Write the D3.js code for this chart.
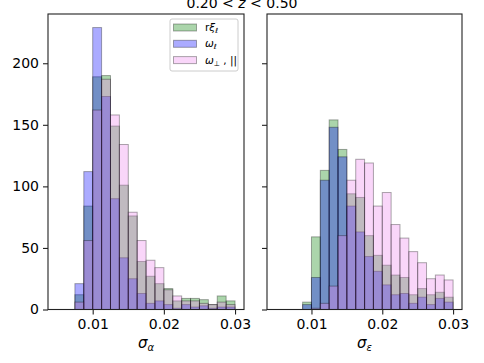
<!DOCTYPE html>
<html>
<head>
<meta charset="utf-8">
<script src="https://cdn.jsdelivr.net/npm/d3@7"></script>
<style>
body{margin:0;background:#fff;}
text{font-family:"DejaVu Sans",sans-serif;fill:#000;}
</style>
</head>
<body>
<div id="chart"></div>
<script>
// bin edges shared by both panels
var binEdges=[0.0075,0.00875,0.01,0.01125,0.0125,0.01375,0.015,0.01625,0.0175,0.01875,0.02,0.02125,0.0225,0.02375,0.025,0.02625,0.0275,0.02875,0.03];

// left panel (sigma_alpha)
var rxiAlpha  =[12,84,189,190,149,101,76,39,27,21,17,7,9,9,8,4,11,7];
var omegaAlpha=[21,112,229,173,90,42,25,13,5,7,4,1,4,2,3,1,2,2];
var perpAlpha =[6,56,162,187,158,134,79,56,40,34,16,11,7,7,5,4,6,4];

// right panel (sigma_epsilon)
var rxiEps  =[0,6,59,113,154,130,94,91,60,44,36,28,26,12,17,12,14,10];
var omegaEps=[0,4,26,105,148,124,84,63,43,31,20,12,13,5,10,4,9,6];
var perpEps =[0,0,1,5,19,60,105,122,119,84,95,69,58,47,38,25,28,24];

var xTicks=[0.01,0.02,0.03];
var yTicks=[0,50,100,150,200];
var colors=["#008000","#0000ff","#ee82ee"];
var alpha=0.33;

var W=484,H=363;
var svg=d3.select("#chart").append("svg").attr("width",W).attr("height",H);

var y=d3.scaleLinear().domain([0,240]).range([309.5,14]);

function panel(x0,x1,series,showY,xlab,sub){
    var x=d3.scaleLinear().domain([0.00372,0.03126]).range([x0,x1]);
    var g=svg.append("g");
    series.forEach(function(vals,si){
        g.selectAll(null).data(vals).enter().append("rect")
            .attr("x",function(d,i){return x(binEdges[i]);})
            .attr("width",function(d,i){return x(binEdges[i+1])-x(binEdges[i]);})
            .attr("y",function(d){return y(d);})
            .attr("height",function(d){return y(0)-y(d);})
            .attr("fill",colors[si]).attr("fill-opacity",alpha)
            .attr("stroke","#000").attr("stroke-opacity",d=>d>0?alpha:0).attr("stroke-width",1);
    });
    // spines
    g.append("rect").attr("x",x0).attr("y",14).attr("width",x1-x0).attr("height",309.5-14)
        .attr("fill","none").attr("stroke","#222").attr("stroke-width",1.1);
    var ax=g.append("g").attr("transform","translate(0,309.5)")
        .call(d3.axisBottom(x).tickValues(xTicks).tickFormat(d3.format(".2f")).tickSize(5).tickPadding(5));
    var ay=g.append("g").attr("transform","translate("+x0+",0)")
        .call(d3.axisLeft(y).tickValues(yTicks).tickSize(5).tickPadding(4).tickFormat(showY?null:""));
    [ax,ay].forEach(function(a){
        a.select(".domain").remove();
        a.selectAll("line").attr("stroke","#222").attr("stroke-width",1.1);
        a.selectAll("text").attr("font-family","DejaVu Sans").attr("font-size",14).attr("fill","#000");
    });
    var t=g.append("text").attr("x",(x0+x1)/2).attr("y",348).attr("text-anchor","middle").attr("font-size",15);
    t.append("tspan").attr("font-style","italic").text(xlab);
    t.append("tspan").attr("font-style","italic").attr("font-size",10).attr("dy",3).text(sub);
}

panel(48,244,[rxiAlpha,omegaAlpha,perpAlpha],true,"σ","α");
panel(267,462,[rxiEps,omegaEps,perpEps],false,"σ","ε");

// title
var tt=svg.append("text").attr("x",242).attr("y",8).attr("text-anchor","middle").attr("font-size",14);
tt.append("tspan").text("0.20 < ");
tt.append("tspan").attr("font-style","italic").text("z");
tt.append("tspan").text(" < 0.50");

// legend
var lg=svg.append("g").attr("transform","translate(170,19)");
lg.append("rect").attr("width",68).attr("height",52).attr("rx",2)
    .attr("fill","#fff").attr("fill-opacity",0.8).attr("stroke","#ccc");
var labels=[["rξ","ℓ",""],["ω","ℓ",""],["ω","⊥"," , ||"]];
labels.forEach(function(l,i){
    var ly=5+i*16.3;
    lg.append("rect").attr("x",3.5).attr("y",ly).attr("width",23).attr("height",7)
        .attr("fill",colors[i]).attr("fill-opacity",alpha).attr("stroke","#000").attr("stroke-opacity",alpha);
    var t=lg.append("text").attr("x",35).attr("y",ly+7).attr("font-size",10.5);
    if(i==0){t.append("tspan").text("r");t.append("tspan").attr("font-style","italic").text("ξ");}
    else t.append("tspan").attr("font-style","italic").text(l[0]);
    t.append("tspan").attr("font-style","italic").attr("font-size",7).attr("dy",2).text(l[1]);
    if(l[2]) t.append("tspan").attr("dy",-2).text(l[2]);
});
</script>
</body>
</html>
